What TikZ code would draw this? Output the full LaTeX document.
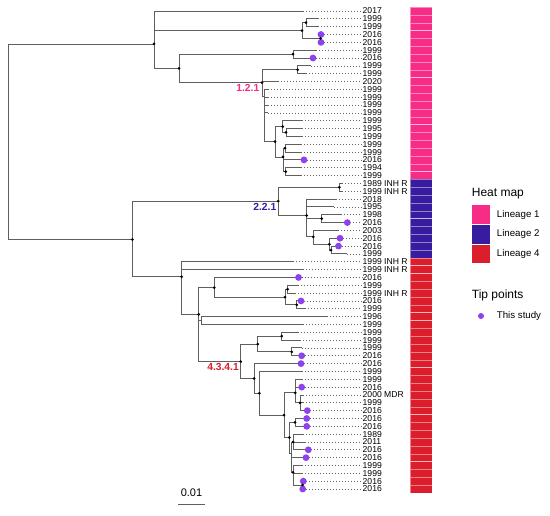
\documentclass[tikz,border=0pt]{standalone}
\usepackage{fontspec}
\setmainfont{Liberation Sans}
\definecolor{linone}{RGB}{246,44,134}
\definecolor{lintwo}{RGB}{56,28,160}
\definecolor{linfour}{RGB}{220,30,44}
\definecolor{studyviolet}{RGB}{140,66,236}
\definecolor{brgray}{RGB}{95,95,95}
\definecolor{dotgray}{RGB}{100,100,100}
\pgfmathdeclarefunction{ry}{1}{\pgfmathparse{11+(#1-1)*7.836}}
\newcommand\tipleaf[5]{%
  \coordinate (t#2) at (#3,{ry(#2)});
  \node[tiplab] (l#2) at (362.5,{ry(#2)}) {#4};
  \draw[branch] (#1) |- (t#2);
  \draw[dotline] (t#2) -- ([xshift=-0.8pt]l#2.west);
  \ifnum#5=1 \node[tipdot] (p#2) at (t#2) {};\fi
}
\begin{document}
\begin{tikzpicture}[x=1pt,y=-1pt,
  branch/.style={draw=brgray, line width=0.9pt},
  dotline/.style={draw=dotgray, line width=0.7pt, dash pattern=on 0.7pt off 2.3pt},
  ndot/.style={circle, fill=black, inner sep=0pt, minimum size=3pt},
  tipdot/.style={circle, fill=studyviolet, inner sep=0pt, minimum size=6.8pt},
  tiplab/.style={anchor=west, inner sep=0pt, font=\fontsize{8.6}{9}\selectfont, text=black},
  cladelab/.style={anchor=east, inner sep=0pt, font=\fontsize{10.3}{11}\selectfont\bfseries},
  legtitle/.style={anchor=west, inner sep=0pt, font=\fontsize{12}{13}\selectfont},
  leglab/.style={anchor=west, inner sep=0pt, font=\fontsize{9.7}{10}\selectfont},
  legsq/.style={draw=white, line width=0.5pt, minimum width=19pt, minimum height=19.5pt, inner sep=0pt},
  heatcell/.style={draw=white, draw opacity=0.45, line width=0.4pt}]
\fill[white] (0,0) rectangle (550,516);
\useasboundingbox (0,0) rectangle (550,516);

% internal nodes
\coordinate (root) at (8,141.7);
\coordinate (L1) at (154,44);
\coordinate (A) at (302,30.7);
\coordinate (B) at (306,22.75);
\coordinate (C) at (320.5,38.4);
\coordinate (D) at (179,68.4);
\coordinate (E) at (293,54.1);
\coordinate (F) at (262,82.7);
\coordinate (G) at (297.7,69.75);
\coordinate (F2) at (264.5,96.6);
\coordinate (H) at (275,141.7);
\coordinate (I) at (282.7,126.6);
\coordinate (K) at (286,132.45);
\coordinate (J) at (283,157);
\coordinate (L) at (285,148.15);
\coordinate (Jin) at (283.5,165.8);
\coordinate (M) at (285.7,171.65);
\coordinate (N) at (132.3,239.5);
\coordinate (O) at (278.3,201.2);
\coordinate (P) at (339.3,187.3);
\coordinate (Q) at (306.7,215.5);
\coordinate (S) at (321.7,218.7);
\coordinate (R) at (313.3,236.9);
\coordinate (T) at (329.3,244.2);
\coordinate (U) at (331,250.1);
\coordinate (V) at (181.7,276.8);
\coordinate (W) at (198.7,314.3);
\coordinate (X) at (214.3,287.6);
\coordinate (Z) at (285,297.1);
\coordinate (AA) at (287.5,289.25);
\coordinate (AB) at (296.7,304.9);
\coordinate (Y) at (201.5,320.5);
\coordinate (AC) at (240.7,361.6);
\coordinate (AD) at (257.7,344.05);
\coordinate (AE) at (281.7,336.2);
\coordinate (AF) at (291.7,351.9);
\coordinate (AG) at (254,378.5);
\coordinate (AH) at (259.3,393.3);
\coordinate (AI) at (284,415.2);
\coordinate (AJ) at (295.3,392.9);
\coordinate (AN) at (300,402.8);
\coordinate (AMK) at (289.3,437.5);
\coordinate (AM) at (295,422.4);
\coordinate (AK) at (291,453.5);
\coordinate (AQ) at (293,442);
\coordinate (AP) at (293,472.3);
\coordinate (AS) at (302.7,485);

% internal edges
\foreach \p/\c in {root/L1,root/N,L1/A,L1/D,A/B,A/C,D/E,D/F,F/G,F/F2,F2/H,H/I,H/J,I/K,J/L,J/Jin,Jin/M,
  N/O,N/V,O/P,O/Q,Q/S,Q/R,R/T,T/U,V/W,W/X,W/Y,W/AC,X/Z,Z/AA,Z/AB,AC/AD,AC/AG,AD/AE,AD/AF,AG/AH,AH/AI,
  AI/AJ,AI/AMK,AJ/AN,AMK/AM,AMK/AK,AK/AQ,AK/AP,AP/AS}
  \draw[branch] (\p) |- (\c);

% tips
\tipleaf{L1}{1}{303}{2017}{0}
\tipleaf{B}{2}{318}{1999}{0}
\tipleaf{B}{3}{318}{1999}{0}
\tipleaf{C}{4}{321}{2016}{1}
\tipleaf{C}{5}{321}{2016}{1}
\tipleaf{E}{6}{316}{1999}{0}
\tipleaf{E}{7}{313}{2016}{1}
\tipleaf{G}{8}{311}{1999}{0}
\tipleaf{G}{9}{306}{1999}{0}
\tipleaf{F}{10}{278}{2020}{0}
\tipleaf{F2}{11}{268}{1999}{0}
\tipleaf{F2}{12}{268}{1999}{0}
\tipleaf{F2}{13}{268}{1999}{0}
\tipleaf{F2}{14}{268}{1999}{0}
\tipleaf{I}{15}{302}{1999}{0}
\tipleaf{K}{16}{302}{1995}{0}
\tipleaf{K}{17}{302}{1999}{0}
\tipleaf{L}{18}{301}{1999}{0}
\tipleaf{L}{19}{301}{1999}{0}
\tipleaf{Jin}{20}{304}{2016}{1}
\tipleaf{M}{21}{301}{1994}{0}
\tipleaf{M}{22}{301}{1999}{0}
\tipleaf{P}{23}{342}{1989 INH R}{0}
\tipleaf{P}{24}{342}{1999 INH R}{0}
\tipleaf{Q}{25}{336}{2018}{0}
\tipleaf{Q}{26}{334}{1995}{0}
\tipleaf{S}{27}{340.7}{1998}{0}
\tipleaf{S}{28}{347.3}{2016}{1}
\tipleaf{R}{29}{338}{2003}{0}
\tipleaf{T}{30}{340}{2016}{1}
\tipleaf{U}{31}{338.5}{2016}{1}
\tipleaf{U}{32}{346.7}{1999}{0}
\tipleaf{V}{33}{293.3}{1999 INH R}{0}
\tipleaf{V}{34}{303.3}{1999 INH R}{0}
\tipleaf{X}{35}{298.5}{2016}{1}
\tipleaf{AA}{36}{298}{1999}{0}
\tipleaf{AA}{37}{295}{1999 INH R}{0}
\tipleaf{AB}{38}{301}{2016}{1}
\tipleaf{AB}{39}{305}{1999}{0}
\tipleaf{Y}{40}{326.7}{1996}{0}
\tipleaf{Y}{41}{303.3}{1999}{0}
\tipleaf{AE}{42}{298.3}{1999}{0}
\tipleaf{AE}{43}{300}{1999}{0}
\tipleaf{AF}{44}{301.7}{1999}{0}
\tipleaf{AF}{45}{301.7}{2016}{1}
\tipleaf{AG}{46}{301}{2016}{1}
\tipleaf{AH}{47}{301.7}{1999}{0}
\tipleaf{AJ}{48}{301.7}{1999}{0}
\tipleaf{AJ}{49}{301.7}{2016}{1}
\tipleaf{AN}{50}{303}{2000 MDR}{0}
\tipleaf{AN}{51}{303}{1999}{0}
\tipleaf{AN}{52}{307.3}{2016}{1}
\tipleaf{AM}{53}{306.7}{2016}{1}
\tipleaf{AM}{54}{306.7}{2016}{1}
\tipleaf{AQ}{55}{303.3}{1989}{0}
\tipleaf{AQ}{56}{305}{2011}{0}
\tipleaf{AQ}{57}{308.3}{2016}{1}
\tipleaf{AK}{58}{306}{2016}{1}
\tipleaf{AP}{59}{301.7}{1999}{0}
\tipleaf{AP}{60}{301.7}{1999}{0}
\tipleaf{AS}{61}{303.3}{2016}{1}
\tipleaf{AS}{62}{302.7}{2016}{1}

% node support dots
\foreach \n in {L1,A,B,C,D,E,F,G,H,I,K,J,L,M,N,O,P,Q,S,R,T,U,V,W,X,Z,AA,AB,AC,AD,AE,AF,AG,AH,AI,AJ,AN,AM,AMK,AQ,AP,AS}
  \node[ndot] at (\n) {};

% clade labels
\node[cladelab, text=linone] (c121) at (259.5,88) {1.2.1};
\node[cladelab, text=lintwo] (c221) at (276.5,206.5) {2.2.1};
\node[cladelab, text=linfour] (c4341) at (239,367) {4.3.4.1};

% heat map
\foreach \k in {1,...,22}
  \path[heatcell, fill=linone] (410,{ry(\k)-3.918}) rectangle (431.7,{ry(\k)+3.918});
\foreach \k in {23,...,32}
  \path[heatcell, fill=lintwo] (410,{ry(\k)-3.918}) rectangle (431.7,{ry(\k)+3.918});
\foreach \k in {33,...,62}
  \path[heatcell, fill=linfour] (410,{ry(\k)-3.918}) rectangle (431.7,{ry(\k)+3.918});

% scale bar
\coordinate (sbl) at (178,504);
\coordinate (sbr) at (205,504);
\draw[branch] (sbl) -- (sbr);
\node[inner sep=0pt, font=\fontsize{11}{12}\selectfont] (sbt) at (191.5,493) {0.01};

% legend
\node[legtitle] (lgh) at (471.7,193.3) {Heat map};
\node[legsq, fill=linone] (k1) at (481.2,214.5) {};
\node[legsq, fill=lintwo] (k2) at (481.2,234.2) {};
\node[legsq, fill=linfour] (k4) at (481.2,253.9) {};
\node[leglab] (lk1) at (496.7,214.5) {Lineage 1};
\node[leglab] (lk2) at (496.7,234.2) {Lineage 2};
\node[leglab] (lk4) at (496.7,253.9) {Lineage 4};
\node[legtitle] (lgt) at (471.7,295) {Tip points};
\node[tipdot, minimum size=6pt] (kd) at (481,316) {};
\node[leglab] (lkd) at (496.7,316) {This study};
\end{tikzpicture}
\end{document}
